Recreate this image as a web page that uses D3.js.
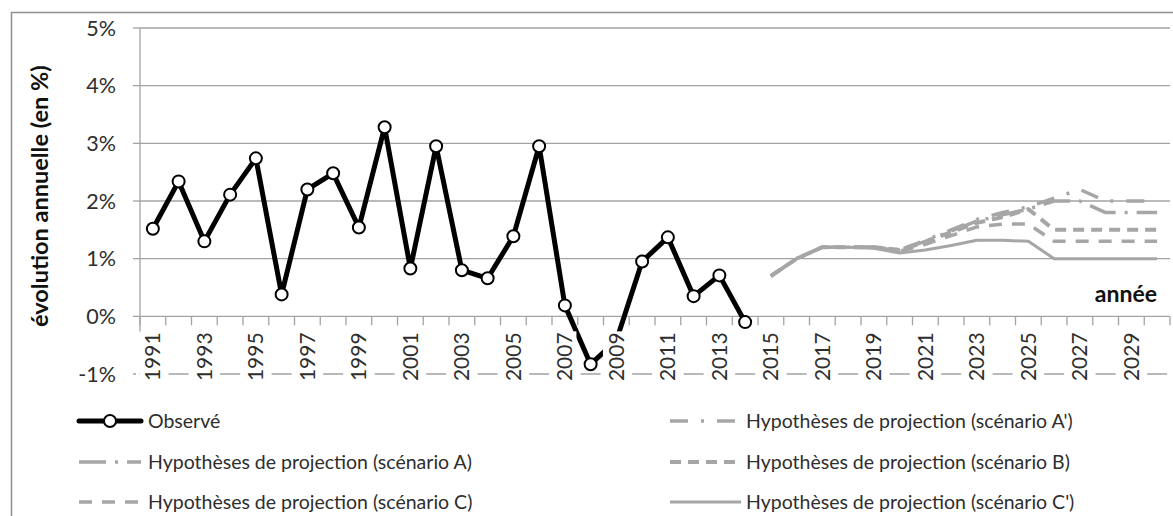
<!DOCTYPE html>
<html><head><meta charset="utf-8">
<script src="https://cdn.jsdelivr.net/npm/d3@7"></script>
<style>
html,body{margin:0;padding:0;background:#fff;}
text{font-family:Lato,"Open Sans",sans-serif;}
</style></head>
<body>
<svg id="chart" width="1173" height="516"></svg>
<script>
// ---------- DATA ----------
const years = ["1991","1992","1993","1994","1995","1996","1997","1998","1999","2000",
  "2001","2002","2003","2004","2005","2006","2007","2008","2009","2010",
  "2011","2012","2013","2014","2015","2016","2017","2018","2019","2020",
  "2021","2022","2023","2024","2025","2026","2027","2028","2029","2030"];
const labelYears = ["1991","1993","1995","1997","1999","2001","2003","2005","2007","2009",
  "2011","2013","2015","2017","2019","2021","2023","2025","2027","2029"];
const observedYears = ["1991","1992","1993","1994","1995","1996","1997","1998","1999","2000",
  "2001","2002","2003","2004","2005","2006","2007","2008","2009","2010",
  "2011","2012","2013","2014"];
const observed = [1.52,2.34,1.30,2.11,2.74,0.38,2.20,2.48,1.54,3.28,
  0.83,2.95,0.80,0.66,1.39,2.95,0.19,-0.83,-0.42,0.95,
  1.37,0.35,0.71,-0.10];
const projYears = ["2015","2016","2017","2018","2019","2020","2021","2022",
  "2023","2024","2025","2026","2027","2028","2029","2030"];
const scenAprime = [0.70,1.00,1.20,1.20,1.20,1.15,1.32,1.50,1.68,1.80,1.90,2.05,2.20,2.00,2.00,2.00];
const scenA      = [0.70,1.00,1.20,1.20,1.20,1.15,1.30,1.48,1.65,1.76,1.86,2.00,2.00,1.80,1.80,1.80];
const scenB      = [0.70,1.00,1.20,1.20,1.20,1.15,1.29,1.46,1.62,1.72,1.86,1.50,1.50,1.50,1.50,1.50];
const scenC      = [0.70,1.00,1.20,1.20,1.20,1.13,1.25,1.40,1.55,1.60,1.60,1.30,1.30,1.30,1.30,1.30];
const scenCprime = [0.70,1.00,1.20,1.20,1.18,1.10,1.15,1.23,1.32,1.32,1.30,1.00,1.00,1.00,1.00,1.00];
const yTicks = [-1,0,1,2,3,4,5];
const yTickLabels = ["-1%","0%","1%","2%","3%","4%","5%"];
const yTitle = "évolution annuelle (en %)";
const xTitle = "année";
const legendLabels = ["Observé",
  "Hypothèses de projection (scénario A')",
  "Hypothèses de projection (scénario A)",
  "Hypothèses de projection (scénario B)",
  "Hypothèses de projection (scénario C)",
  "Hypothèses de projection (scénario C')"];

// ---------- LAYOUT ----------
const svg = d3.select("#chart");
const plotL = 140, plotR = 1170, plotT = 28, plotB = 374;
const x = d3.scaleBand().domain(years).range([plotL, plotR]).padding(0);
const y = d3.scaleLinear().domain([-1, 5]).range([plotB, plotT]);
const cx = d => x(d) + x.bandwidth() / 2;
const gridCol = "#a3a3a3";
const projCol = "#a6a6a6";
const textCol = "#2e2e2e";

// frame
svg.append("rect").attr("x", 11.5).attr("y", 12.5).attr("width", 1200).attr("height", 600)
  .attr("fill", "none").attr("stroke", "#8f8f8f").attr("stroke-width", 1.5);

// horizontal gridlines
svg.append("g").selectAll("line").data(yTicks.filter(v => v > 0)).join("line")
  .attr("x1", plotL).attr("x2", plotR).attr("y1", d => y(d)).attr("y2", d => y(d))
  .attr("stroke", gridCol).attr("stroke-width", 1.3);
// -1% dashed gridline: dashes centred on even years
const bw = x.bandwidth();
svg.append("line")
  .attr("x1", cx("1992") - 10).attr("x2", plotR).attr("y1", y(-1)).attr("y2", y(-1))
  .attr("stroke", gridCol).attr("stroke-width", 1.3)
  .attr("stroke-dasharray", `20,${2 * bw - 20}`);

// y ticks
svg.append("g").selectAll("line").data(yTicks).join("line")
  .attr("x1", plotL - 7).attr("x2", plotL).attr("y1", d => y(d)).attr("y2", d => y(d))
  .attr("stroke", gridCol).attr("stroke-width", 1.3)
  .attr("stroke-dasharray", d => d < 0 ? "3,3" : null);
// y axis line
svg.append("line").attr("x1", plotL).attr("x2", plotL).attr("y1", y(5)).attr("y2", y(0) + 16)
  .attr("stroke", gridCol).attr("stroke-width", 1.3);
// x axis line at 0
svg.append("line").attr("x1", plotL).attr("x2", plotR).attr("y1", y(0)).attr("y2", y(0))
  .attr("stroke", gridCol).attr("stroke-width", 1.3);
// x ticks at category boundaries
const bounds = years.map(d => x(d)).concat([plotR]);
svg.append("g").selectAll("line").data(bounds).join("line")
  .attr("x1", d => d).attr("x2", d => d).attr("y1", y(0)).attr("y2", y(0) + 9)
  .attr("stroke", gridCol).attr("stroke-width", 1.3);

// ---------- PROJECTIONS ----------
const line = d3.line().x(d => cx(d.k)).y(d => y(d.v));
const scenarios = [
  {vals: scenC, dash: "13,10", w: 3.5},
  {vals: scenB, dash: "11,7", w: 4},
  {vals: scenA, dash: "27,9,3,9", w: 3.5},
  {vals: scenAprime, dash: "18,13,3,13", w: 3.5},
  {vals: scenCprime, dash: null, w: 3}
];
scenarios.forEach(s => {
  svg.append("path").datum(projYears.map((k, i) => ({k, v: s.vals[i]})))
    .attr("d", line).attr("fill", "none").attr("stroke", projCol)
    .attr("stroke-width", s.w).attr("stroke-dasharray", s.dash)
    .attr("stroke-linejoin", "round");
});

// ---------- OBSERVED ----------
const obsData = observedYears.map((k, i) => ({k, v: observed[i]}));
svg.append("path").datum(obsData).attr("d", line).attr("fill", "none")
  .attr("stroke", "#000").attr("stroke-width", 5).attr("stroke-linejoin", "round");
svg.append("g").selectAll("circle").data(obsData).join("circle")
  .attr("cx", d => cx(d.k)).attr("cy", d => y(d.v)).attr("r", 6)
  .attr("fill", "#fff").attr("stroke", "#000").attr("stroke-width", 2);

// ---------- X LABELS (opaque boxes) ----------
const xl = svg.append("g").selectAll("g").data(labelYears).join("g")
  .attr("transform", d => `translate(${cx(d)},${y(0) + 16}) rotate(-90)`);
xl.append("text").text(d => d).attr("text-anchor", "end").attr("dy", "0.36em")
  .attr("font-size", 21).attr("fill", textCol);
xl.each(function() {
  const g = d3.select(this);
  const b = g.select("text").node().getBBox();
  g.insert("rect", "text").attr("x", b.x - 1).attr("y", b.y).attr("width", b.width + 2)
    .attr("height", b.height).attr("fill", "#fff");
});

// ---------- Y LABELS ----------
svg.append("g").selectAll("text").data(yTicks).join("text")
  .attr("x", 116).attr("y", d => y(d)).attr("dy", "0.36em").attr("text-anchor", "end")
  .attr("font-size", 21.5).attr("fill", textCol).text((d, i) => yTickLabels[i]);

// titles
svg.append("text").attr("transform", `translate(48,${(y(5) + y(0)) / 2 + 24}) rotate(-90)`)
  .attr("text-anchor", "middle").attr("font-size", 23.5).attr("font-weight", "bold")
  .attr("fill", "#111").text(yTitle);
svg.append("text").attr("x", 1157).attr("y", 302).attr("text-anchor", "end")
  .attr("font-size", 23).attr("font-weight", "bold").attr("fill", "#111").text(xTitle);

// ---------- LEGEND ----------
const legend = [
  {col: 0, row: 0, label: legendLabels[0], obs: true},
  {col: 1, row: 0, label: legendLabels[1], dash: "18,13,3,13", w: 3.5},
  {col: 0, row: 1, label: legendLabels[2], dash: "27,9,3,9", w: 3.5},
  {col: 1, row: 1, label: legendLabels[3], dash: "11,7", w: 4},
  {col: 0, row: 2, label: legendLabels[4], dash: "13,10", w: 3.5},
  {col: 1, row: 2, label: legendLabels[5], dash: null, w: 3}
];
const colX = [[79, 141, 148], [670, 741, 746]];
const rowY = [421, 462, 502];
legend.forEach(e => {
  const [x1, x2, tx] = colX[e.col];
  const yy = rowY[e.row];
  if (e.obs) {
    svg.append("line").attr("x1", x1).attr("x2", x2).attr("y1", yy).attr("y2", yy)
      .attr("stroke", "#000").attr("stroke-width", 5).attr("stroke-linecap", "round");
    svg.append("circle").attr("cx", (x1 + x2) / 2).attr("cy", yy).attr("r", 6)
      .attr("fill", "#fff").attr("stroke", "#000").attr("stroke-width", 2);
  } else {
    svg.append("line").attr("x1", x1).attr("x2", x2).attr("y1", yy).attr("y2", yy)
      .attr("stroke", projCol).attr("stroke-width", e.w).attr("stroke-dasharray", e.dash);
  }
  svg.append("text").attr("x", tx).attr("y", yy).attr("dy", "0.36em")
    .attr("font-size", 19.5).attr("fill", textCol).text(e.label);
});
</script>
</body></html>
